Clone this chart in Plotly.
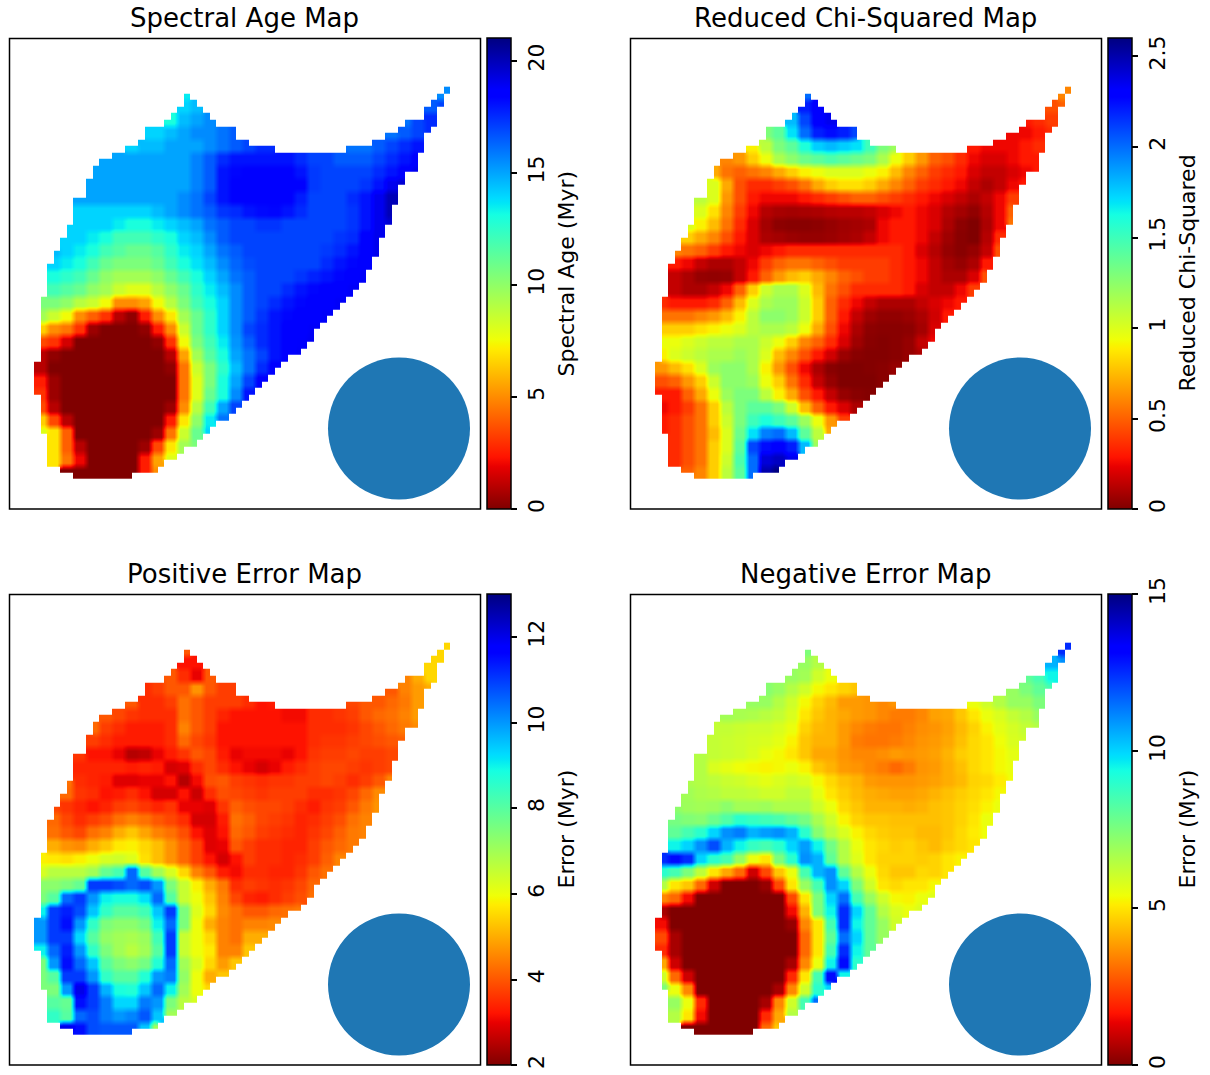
import numpy as np
import plotly.graph_objects as go

# outline of the source, one entry per image row (column where it starts / stops)
row_left = [64,23,23,22,21,20,17,17,16,14,12,10,9,9,8,8,8,6,6,6,6,5,5,4,4,3,3,2,2,2,2,2,1,1,1,1,1,1,1,1,1,1,0,0,0,0,0,1,1,1,1,1,1,2,2,2,2,2,4,6]
row_right = [64,24,25,26,27,28,31,31,33,37,59,59,59,57,57,56,56,56,55,55,55,54,54,53,53,53,52,52,51,51,50,49,48,47,46,45,44,43,43,42,41,39,38,37,36,35,34,33,32,31,30,28,27,26,25,23,22,20,19,15]
spur_left = [63,62,61,60,60,57,56,54,52,48]
spur_right = [64,63,63,62,62,62,61,60,60,60]

age_spur = [[15.5],[16.5,17],[16,17,17.5],[16,16.5,17,17.5],[16,16,16.5,17,17.5,18]]
age = [
[13.5],[14,14.5],[13,14.5,15,15.5],[14,14,14.5,15,15.5,15.5,16,16.5],
[14,14.5,14.5,15,15,15,15.5,16,16.5,17,17.5,17.5],
[15,15,15,15,15,15,15,15.7,16.5,17.5,18,18,18,18,18,17.5,17,17,16.5,16.5,16.5,17,17.5,18,18.5],
[15,15,15,15,15,15,15,15,15.7,16.5,18,18.3,18.4,18.4,18.4,18.4,18,17.2,17,17,17,17,17.5,18,18.5,19],
[15,15,15,15,15,15,15,15,15.7,16.5,18,18.4,18.4,18.4,18.4,18.4,18.4,17.2,17,17,17,17.3,18,19,19.5],
[15,15,15,15,15,15,15,15,15.5,16,17,18,18.4,18.4,18.4,18.4,18.4,17.8,17,17,17,17.5,18,19,20],
[14,14,14,14,14,14,14.5,15,15.5,16,16.5,17.3,17.5,18,18.2,18.3,18,17.5,17,17,17,17.3,18,19,20],
[14,14,14,14,13.5,13,13,13.5,14,14.5,15,16,16.5,17,17,17.3,17.3,17,17,17,17,17,17.3,18,19,19.5],
[14,14,13.5,13,12,12,12,12.5,13,14,14.5,15.5,16.5,17,17,17,17,17,17,17,17,17.3,17.5,18.5,19],
[14.5,14,13.5,13,12,11.5,11,11,11.5,12.5,13.5,14,15,16,16.5,17,17,17,17,17,17,17.2,17.5,18,18.5,19],
[14,13.5,13,12,11,10.5,10.5,10.5,11,12,13,13.7,14.5,15.5,16.3,16.8,17,17,17,17,17,17.5,18,18.3,18.6],
[13,12.5,12,11,10,9.5,9.5,9.5,10,11,12,13,14,15,16,16.5,17,17,17,17.3,17.7,18,18.3,18.6,18.8],
[12,11.5,11,10,9.5,8.5,8,8,9,10,11,12.5,13.5,14.5,15.5,16.5,17,17,17.5,18,18.3,18.5,18.6,18.8],
[10.5,10.5,10,9,8.5,7.5,5,5,5.5,7.5,9,10.5,12,13,14,15.5,16.5,17,17.5,18,18.3,18.5,18.6,18.8],
[9.5,8.5,7.5,5,4,3,1,0.3,2.5,5,7,9.5,11,12.5,14,15.5,16.5,17.3,18,18.3,18.5,18.6,18.8],
[6.5,5,4.5,3,0.5,0,0,0,0.3,2.5,5,8.5,11,12.5,14,15.5,17,17.5,18,18.5,18.6,18.8],
[3.5,3,1.5,0,0,0,0,0,0,0.3,3,7.5,10.5,12,13.5,15.3,16.5,17.5,18,18.5,18.7,18.9],
[1,0.3,0,0,0,0,0,0,0,0,1,5.5,9.5,11.5,13,15,16,17,18,18.5,18.8],
[1,0,0,0,0,0,0,0,0,0,0.3,4.5,8.5,10.5,12.5,14.5,16,17.5,18.5],
[2.5,0.5,0,0,0,0,0,0,0,0,0,4.5,8,10.5,13,15,17,18.5],
[3,0.5,0,0,0,0,0,0,0,0,0,4.5,8,11,13,15.5,18],
[3.5,1,0,0,0,0,0,0,0,0,0.5,5,9,12,15,17],
[6.5,3.5,1,0,0,0,0,0,0,0,2.5,7,10,13.5,16],
[8,7,4,0,0,0,0,0,0,0.5,4.5,8.5,11,14],
[7,4,1,0,0,0,0,0.5,3.5,7,9.5,10.5],
[7,4.5,2,0,0,0,0,2.5,5.5,8],
[0,0,0,0,0,0,2.5,5],
]

chi_tenths_spur = [[6],[4.5,5],[3,3.5,4],[2.5,2.5,3,3.5],[3,2.5,2.5,2.5,3,3.5]]
chi_tenths = [
[20],[22,23],[18,21,23,23.5],[13,14,17,20,22,22.5,22,21],
[9,11,13,14,16,17.5,18,17.5,17,15,13,12],
[6,6.5,8,9.5,11.5,12.5,13.5,14,14.5,14,13.5,13,11.5,9.5,8,6.5,5,4.5,3.5,2.5,2,2,2.5,3,3],
[7,5.5,5,5.5,6,7,8,9,9.5,10,10,10,9.5,9,7.5,6,5,4,3.5,3,2,1.5,1.5,2,2.5,3],
[10,7,4.5,3.5,3.5,4,4.5,5.5,7,8,8.5,8.5,8,7,6,5,4,3.5,3,2.5,1.5,1,1.5,2.5,3],
[11,10,6.5,4.5,3,2.5,2.5,2.5,3,3.5,4,4.5,5,5,4.5,4,3.5,3,2.5,2,1.5,1,1.5,2.5,4],
[10,8.5,6,4,2.5,1.2,0.9,0.8,0.9,1,1.2,1.3,1.3,1.5,2,2.5,3,2.5,2,1.2,0.8,0.4,1.2,2.5,5],
[10,9,7.5,5.5,3.5,2,0.8,0.3,0.2,0.2,0.3,0.5,0.7,0.8,1,2.5,3,3,2.5,2,1,0.3,0,1,2.5,5.5],
[8,7,6,4.5,3,2,1,0.8,0.6,0.5,0.5,0.6,0.8,1,1.5,2.5,3,3,2.5,1.5,0.7,0.2,0,1.2,3.5],
[6,5.5,5,4,3,2.5,2,2.5,3,3.5,3.5,3.5,3.5,3.5,3.5,3.5,3.5,3.5,3,2,1.2,0.5,0.2,0.5,1.5,4.5],
[3,2.5,1.5,1,1,1.5,2.5,4,5,5.5,5.5,5,4.5,4,4,4,4,3.5,3,2.5,1.5,0.8,0.5,1,3],
[1.5,1,0.5,0.4,0.5,1.5,3,5,6.5,7.5,8,7,6,5,4.5,4,4,3.5,3,2.5,1.5,1,1,2,4.5],
[1.5,1,1,1.5,2.5,5,8,10.5,11.5,11.5,10,7.5,5.5,4.5,3.5,3.5,3.5,3.5,3,2,1.5,1.5,2.5,4],
[3.5,3,3,3,3.5,5,7.5,10,11.5,12,12,10.5,8,5,3.5,2.5,1.5,1,1,1,1.5,2,2.5,3],
[5.5,5.5,5.5,6,6.5,7.5,9,11,12.5,12.5,12,10.5,8,5,3,1.5,0.7,0.4,0.4,0.6,1,1.8,3],
[8,8,8,8.5,9,9.5,10,11,11.5,11.5,11,9.5,7,4.5,2.5,1,0.3,0.2,0.2,0.3,0.8,2],
[9.5,9.5,10,10.5,11,11,11.5,11.5,10.5,9.5,8,6,5,3.5,2,0.7,0.2,0.1,0.2,0.5,1.5,2.5],
[9,10,10.5,11,11.5,11.5,12,11.5,10,7.5,6,4.5,3,1.8,0.6,0.2,0.1,0.1,0.2,0.5,1],
[6.5,7.5,8.5,10,12,12.5,12.5,11.5,9,6.5,4.5,2.5,1,0.2,0,0,0.1,0.2,0.5],
[4.5,5,6.5,8,10.5,12.5,12.5,12,9.5,8,5.5,3.5,1.5,0.5,0,0,0,0.2],
[3,3,5,7,9.5,12,13,13,11,9,7,4.5,3,1.5,0.5,0.2,0.1],
[2.5,3,4,5.5,8,11,13,14,14,13,10.5,7.5,5,3,2,1],
[3,3.5,4.5,5.5,8,10.5,13,15,16,15,14,12,9.5,6.5,4],
[3,3.5,4.5,5.5,7.5,10,13.5,17,19.5,20,18,14,11,7],
[3.5,4.5,5.5,8,10,14,21,22.5,23,22,18,12],
[3.5,4.5,5.5,8,10.5,14.5,20,24,24.5,23.5],
[5,6,8,11,14,20,25,26],
]

pos_spur = [[5.5],[5.5,5.5],[4.5,5,5.5],[4,4.5,4.8,5],[3.8,4,4,4.2,4.4,4.8]]
pos_err = [
[4],[3.2,3.2],[4,3.5,3,4],[3.5,3.7,4,4,4.7,4,3.7,3.7],
[4,3.5,3.5,3.7,4.3,4,3.7,3.7,3.7,3.5,3.2,3.3],
[4,3.8,3.6,3.5,3.5,3.5,4.3,4,3.7,3.4,3.2,3.2,3.2,3.2,3.1,3.1,3.5,3.5,3.6,3.7,4,4.2,4.3,4.5,4.8],
[4.2,3.7,3.5,3.3,3.3,3.3,3.5,4.5,4,3.7,3.2,3.2,3.2,3.2,3.2,3.2,3.2,3.5,3.5,3.5,3.6,3.8,4,4.2,4.4,4.6],
[3.7,3.5,3.3,3.3,3.3,3.3,3.5,4.2,3.8,3.6,3.2,3.2,3.2,3.2,3.2,3.2,3.2,3.5,3.6,3.6,3.7,3.8,3.9,4,4.1],
[3.6,3.2,3.2,3,2.5,2.6,3,3.3,3.6,4,3.8,3.3,3,3.1,3.1,3.1,3,3.2,3.6,3.7,3.7,3.8,3.7,3.7,3.8],
[3.4,3.4,3.4,3.4,3.3,3.4,3.3,2.8,2.9,3.5,3.8,3.5,3.2,3,2.8,3,3.3,3.5,3.7,3.8,3.8,3.7,3.6,3.7,3.8],
[4.3,3.5,3.4,3.3,2.9,2.9,3,3,3.2,2.5,3.1,3.9,4,3.7,3.6,3.5,3.6,3.6,3.7,3.7,3.8,3.7,3.5,3.7,4,4.5],
[4.2,3.6,3.5,3.2,3.3,3.5,3.2,2.8,2.8,3.2,2.7,3.5,3.9,3.8,3.7,3.6,3.7,3.7,3.7,3.5,3.5,3.6,3.8,4.2,4.6],
[3.8,3.6,3.4,3.2,3.4,3.7,3.8,3.6,3.4,3.6,3,3,2.9,3.6,4.1,3.9,3.8,3.8,3.7,3.5,3.3,3.6,3.7,4,4.4,4.7],
[4.2,3.8,3.5,3.7,3.9,4.3,4.5,4.3,4,3.8,3.5,2.8,2.8,3.3,4.3,4.1,3.8,3.7,3.6,3.4,3.5,3.7,3.9,4.3,4.5],
[4.3,4,3.8,4.3,4.5,5,5.3,4.9,4.5,4.3,3.9,3.2,2.9,3.2,4.2,4,3.7,3.6,3.5,3.4,3.6,3.8,4.1,4.4,4.5],
[5,4.7,4.6,5,5.3,5.7,5.8,5.5,5.2,4.7,4.2,3.7,2.9,3,4,3.7,3.5,3.5,3.4,3.4,3.7,4,4.2,4.4],
[5.8,5.7,5.6,5.8,6,6.3,6.4,6.2,5.6,5.2,4.7,4.2,3.7,3.2,2.8,3.2,3.7,3.5,3.5,3.4,3.5,3.7,4.1,4.5],
[6.3,6.7,6.7,6.7,7,7.8,8.2,10.5,8,7,6.3,5.5,4.5,4,3.3,3.1,3.5,3.5,3.4,3.4,3.6,4,4.3],
[7.3,7.3,7.5,7.8,11,11,10.8,10.5,10.8,10,7.5,6.5,5.8,5,4.4,3.5,3.7,3.6,3.5,3.6,3.8,4.2],
[7.5,8,10.5,11,10,9,8.8,8.8,9.2,10.5,8,6.5,6,5.3,4.5,3.8,3.4,3.3,3.5,3.7,3.9,4.3],
[9,11,11.3,10.8,9.5,8.5,8,8,8.3,9.5,11,7.5,6.2,5.5,4.6,4.3,4,4,4.2,4.3,4.4],
[10,11,11.5,10,8.5,7.5,7.3,7.3,7.6,9,10.5,7.5,6,5,4.5,4.3,4.5,4.5,4.6],
[10,11,11,9.3,8,7.2,7,6.9,7.1,8.3,11,6.5,6,5.5,4.5,4.3,5,5],
[9,10.5,11.3,10,8.5,7.5,7,6.7,7,8,11,6.5,6,5.7,4.5,4.5,5.3],
[7.5,10,11.5,10.5,9.5,8,7.5,7.3,7.6,8.7,10.5,7,6.3,5.5,4.8,5.3],
[7.5,8,11,11,10,8.5,8,8,8.7,10,10.3,7.2,6,5,5.3],
[7.5,7.5,10,12,11,9.7,8.8,8.7,9.5,10.5,9,7,6,5.5],
[8,7.8,11.5,11,10.3,9.3,9.3,10.3,10,7.5,6.7,6.3],
[8.5,8,10.5,10.8,10.3,10,10.2,10.7,9.5,7],
[12,11.5,10.8,10.7,10.7,10.7,9.5,7],
]

neg_spur = [[12.5],[10.5,11],[8,8.5,9.5],[7,7.5,8,8.5],[5.5,6,6.5,7,7,7.5]]
neg_err = [
[7.5],[7,6.5],[7,6.8,6,5.5],[7.3,7,6.5,6,5.3,5,4.7,4.5],
[7,7,6.5,6,5.3,4.7,4.3,3.8,3.8,3.7,3.5,3.7],
[6.8,6.7,6.6,6.4,6.2,5.8,5,4.5,4.2,4,3.8,3.7,3.5,3.3,3.3,3.5,3.9,4,4.5,5,5.5,5.8,6.2,6.5,7],
[6.2,6.2,6.1,6,6,5.8,5.5,4.7,4.3,4.2,3.8,3.5,3.3,3.2,3.2,3.4,3.6,3.7,3.9,4.3,4.7,5.2,5.6,5.9,6.2,6.5],
[6.2,6.1,6,5.9,5.8,5.6,5.2,4.5,4.2,4.2,3.8,3.3,3.2,3.2,3.3,3.5,3.7,3.8,4,4.4,4.8,5,5.4,5.8,6],
[6.5,6.2,6.1,6,5.8,5.5,5.3,5,4.5,4,4,3.7,3.5,3.5,3.6,3.8,3.7,3.8,3.9,4.2,4.6,4.8,5,5.3,5.6],
[6.5,5.8,5.6,5.4,5.3,5.2,5.3,5.5,5.2,4.5,4.2,3.8,3.7,3.5,3.3,3,3.3,3.7,3.8,4.1,4.4,4.8,5,5.3,5.5],
[6.6,6.5,6.3,6.1,6,5.8,5.6,5.8,6,5.8,5.3,4.8,4.4,4.2,3.8,3.7,3.7,3.7,3.8,3.9,4.1,4.3,4.7,4.8,5.1,5.4],
[6.8,6.6,6.5,6.3,6.3,6.2,6,6,6.3,6.3,5.6,5,4.6,4.3,4.1,4,3.9,3.9,4,4.2,4.4,4.6,4.8,5,5.3],
[7.2,6.9,6.8,6.9,7.2,6.8,6.8,6.9,6.6,6.6,6.6,6,5.5,4.8,4.5,4.2,4.2,4.2,4.1,4.2,4.4,4.5,4.7,4.9,5.2,5.5],
[7.6,7.4,7.3,7.8,8.3,9,8.8,8.6,8.4,8,7.6,6.7,6,5.2,4.7,4.5,4.5,4.4,4.4,4.4,4.4,4.5,4.7,5,5.5],
[8,8.5,9,10,11,11.3,10.5,10.8,11,10.5,9,7.3,6.4,5.8,5.2,4.8,4.6,4.5,4.5,4.3,4.3,4.5,4.8,5.1,5.4],
[9.5,10,11,12,10.5,9.5,8.8,8.5,9,10,10.8,9.5,7.7,6.5,5.5,5,4.8,4.6,4.7,4.5,4.3,4.6,4.8,5],
[12.5,13,12.5,10,9,8.5,7,5.5,5,7.5,9,11,10.5,8,6.5,5.7,5,4.7,4.7,4.7,4.6,4.7,5,5.2],
[9,8.5,7.5,6.3,5,4,3,1,2.5,4.5,5.5,8.5,10.5,11,8,6.5,5.5,4.8,4.5,4.5,4.8,4.7,5],
[6.5,5,4.5,3,1,0,0,0,0.3,2.5,5,7,8.5,11,10,7.5,6,5,4.8,5,5,5.3],
[3.5,3,1.5,0,0,0,0,0,0,0,2.5,5,7.5,10,11.5,8.5,7,6,5.3,5.2,5.5,5.7],
[0.5,0,0,0,0,0,0,0,0,0,1.5,4.2,7.5,9.5,12.5,10,8,6.5,5.8,5.5,5.8],
[1.5,0,0,0,0,0,0,0,0,0,0.3,3.5,5,8.5,12.5,9.5,8,7,6],
[2.5,0.5,0,0,0,0,0,0,0,0,0,3,5,8,11.5,10,8,7],
[2,0.5,0,0,0,0,0,0,0,0,0,3,5,8.5,12.5,9.5,8],
[4,1,0,0,0,0,0,0,0,0,0.5,3.5,5.5,9.5,13,9],
[6,3,1,0,0,0,0,0,0,0,2,5,8.5,13,9.5],
[7.5,5.5,3.5,0,0,0,0,0,0,0.5,3.5,6,9,10],
[7,5.5,2,0,0,0,0,0.5,3.5,6,8.5,11.5],
[6.5,5,1.5,0,0,0,0,2,4,6.5],
[0,0,0,0,0,0,3,4.5],
]

panel_titles = ["Spectral Age Map", "Reduced Chi-Squared Map", "Positive Error Map", "Negative Error Map"]
bar_titles = ["Spectral Age (Myr)", "Reduced Chi-Squared", "Error (Myr)", "Error (Myr)"]
z_limits = [(0, 21), (0, 2.6), (2, 13), (0, 15)]
bar_ticks = [[0, 5, 10, 15, 20], [0, 0.5, 1, 1.5, 2, 2.5], [2, 4, 6, 8, 10, 12], [0, 5, 10, 15]]
bar_labels = [["0", "5", "10", "15", "20"], ["0", "0.5", "1", "1.5", "2", "2.5"],
              ["2", "4", "6", "8", "10", "12"], ["0", "5", "10", "15"]]

W, H = 1210, 1075
FONT = "DejaVu Sans"
CELL_W, CELL_H = 6.5, 6.54
ORIGIN_X, ORIGIN_Y = 34.0, 86.7
FRAME_W, FRAME_H = 471.0, 470.5
PANEL_X = [9.5, 630.5]
PANEL_Y = [38.5, 594.5]
BAR_OFFSET = 477.5
BAR_W = 24
LABEL_OFFSET = 556.5
BEAM_CX, BEAM_CY, BEAM_R = 389.5, 390.0, 71.0   # offset from panel corner, pixels


def jet_reversed():
    r = ([0, .35, .66, .89, 1], [0, 0, 1, 1, .5])
    g = ([0, .125, .375, .64, .91, 1], [0, 0, 1, 1, 0, 0])
    b = ([0, .11, .34, .65, 1], [.5, 1, 1, 0, 0])
    stops = sorted(set(1 - s for s in r[0] + g[0] + b[0]))
    out = []
    for s in stops:
        c = [int(round(255 * np.interp(1 - s, *ch))) for ch in (r, g, b)]
        out.append([float(s), f"rgb({c[0]},{c[1]},{c[2]})"])
    return out


def rows_of(r):
    segs = []
    if row_left[r] < row_right[r]:
        segs.append((row_left[r], row_right[r], False))
    if r < len(spur_left):
        segs.append((spur_left[r], spur_right[r], True))
    return segs


def main_start(k):
    return min(row_left[r] for r in (2 * k, 2 * k + 1) if row_left[r] < row_right[r]) // 2


def spur_start(k):
    return min(spur_left[2 * k], spur_left[2 * k + 1]) // 2


def grid(values, spur_values, scale=1.0):
    z = np.full((60, 64), np.nan)
    for r in range(60):
        k = r // 2
        for a, b, is_spur in rows_of(r):
            for c in range(a, b):
                if is_spur:
                    row, start = spur_values[k], spur_start(k)
                else:
                    row, start = values[k], main_start(k)
                i = min(max(c // 2 - start, 0), len(row) - 1)
                z[r, c] = row[i] * scale
    return z


maps = [grid(age, age_spur), grid(chi_tenths, chi_tenths_spur, 0.1),
        grid(pos_err, pos_spur), grid(neg_err, neg_spur)]
scale = jet_reversed()
fig = go.Figure()
shapes, notes = [], []
xs = np.arange(64) + 0.5
ys = np.arange(60) + 0.5

for i in range(4):
    px = PANEL_X[i % 2]
    py = PANEL_Y[i // 2]
    ax = "" if i == 0 else str(i + 1)
    fig.add_trace(go.Heatmap(
        z=maps[i], x=xs, y=ys, xaxis="x" + ax, yaxis="y" + ax, zsmooth="best",
        colorscale=scale, zmin=z_limits[i][0], zmax=z_limits[i][1], hoverongaps=False,
        colorbar=dict(
            x=(px + BAR_OFFSET) / W, xanchor="left", xpad=0, ypad=0,
            y=1 - (py + FRAME_H / 2) / H, yanchor="middle",
            len=FRAME_H / H, lenmode="fraction", thickness=BAR_W, thicknessmode="pixels",
            outlinecolor="black", outlinewidth=1.5,
            tickmode="array", tickvals=bar_ticks[i], ticktext=bar_labels[i],
            tickangle=-90, ticks="outside", ticklen=6, tickwidth=1.5, tickcolor="black",
            tickfont=dict(family=FONT, size=22, color="black"),
        )))
    dx = 0 if i % 2 == 0 else 621
    dy = 0 if i < 2 else 556
    x_rng = [(px - dx - ORIGIN_X) / CELL_W, (px + FRAME_W - dx - ORIGIN_X) / CELL_W]
    y_rng = [(py + FRAME_H - dy - ORIGIN_Y) / CELL_H, (py - dy - ORIGIN_Y) / CELL_H]
    axis = dict(showticklabels=False, ticks="", showgrid=False, zeroline=False, showline=False)
    fig.layout["xaxis" + ax] = dict(axis, domain=[px / W, (px + FRAME_W) / W], range=x_rng,
                                    anchor="y" + ax)
    fig.layout["yaxis" + ax] = dict(axis, domain=[1 - (py + FRAME_H) / H, 1 - py / H], range=y_rng,
                                    anchor="x" + ax)
    cx = x_rng[0] + BEAM_CX / CELL_W
    cy = y_rng[1] + BEAM_CY / CELL_H
    shapes.append(dict(type="circle", xref="x" + ax, yref="y" + ax,
                       x0=cx - BEAM_R / CELL_W, x1=cx + BEAM_R / CELL_W,
                       y0=cy - BEAM_R / CELL_H, y1=cy + BEAM_R / CELL_H,
                       fillcolor="#1f77b4", line=dict(width=0)))
    shapes.append(dict(type="rect", xref="paper", yref="paper",
                       x0=px / W, x1=(px + FRAME_W) / W,
                       y0=1 - (py + FRAME_H) / H, y1=1 - py / H,
                       line=dict(color="black", width=1.5), fillcolor="rgba(0,0,0,0)"))
    notes.append(dict(text=panel_titles[i], x=(px + FRAME_W / 2 - 0.5) / W, y=1 - (py - 4) / H,
                      xref="paper", yref="paper", xanchor="center", yanchor="bottom",
                      showarrow=False, font=dict(family=FONT, size=26, color="black")))
    notes.append(dict(text=bar_titles[i], x=(px + LABEL_OFFSET) / W, y=1 - (py + 235) / H,
                      xref="paper", yref="paper", xanchor="center", yanchor="middle", textangle=-90,
                      showarrow=False, font=dict(family=FONT, size=22, color="black")))

fig.update_layout(width=W, height=H, autosize=False, margin=dict(l=0, r=0, t=0, b=0),
                  paper_bgcolor="white", plot_bgcolor="white", shapes=shapes, annotations=notes,
                  showlegend=False)
fig.write_html("out.html", post_script="document.body.style.margin='0';",
               config=dict(displayModeBar=False))
